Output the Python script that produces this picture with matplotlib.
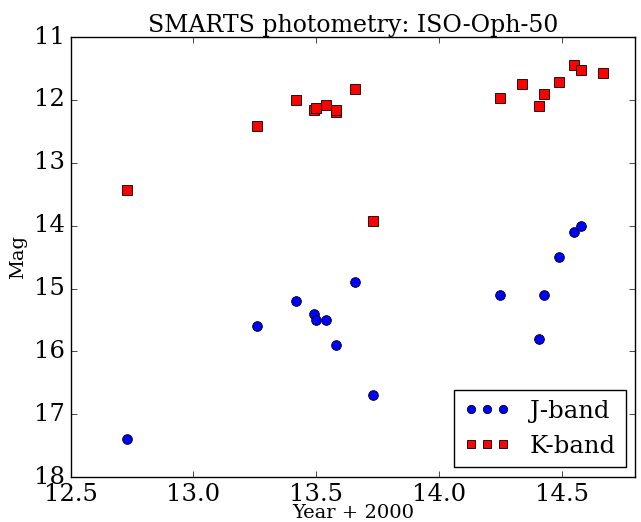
import matplotlib
matplotlib.use('Agg')
import matplotlib.pyplot as plt

# J-band photometry (year - 2000, mag)
j_year = [12.73, 13.26, 13.42, 13.49, 13.50, 13.54, 13.58, 13.66, 13.73,
          14.25, 14.41, 14.43, 14.49, 14.55, 14.58]
j_mag = [17.4, 15.6, 15.2, 15.4, 15.5, 15.5, 15.9, 14.9, 16.7,
         15.1, 15.8, 15.1, 14.5, 14.1, 14.0]

# K-band photometry
k_year = [12.73, 13.26, 13.42, 13.49, 13.50, 13.54, 13.58, 13.58, 13.66, 13.73,
          14.25, 14.34, 14.41, 14.43, 14.49, 14.55, 14.58, 14.67]
k_mag = [13.44, 12.41, 12.0, 12.16, 12.13, 12.08, 12.19, 12.16, 11.82, 13.93,
         11.97, 11.75, 12.09, 11.9, 11.71, 11.45, 11.52, 11.57]

plt.style.use('classic')
plt.rcParams['font.family'] = 'DejaVu Serif'

fig = plt.figure(figsize=(6.41, 5.22), dpi=100)
ax = fig.add_axes([0.11, 0.086, 0.881, 0.843])

ax.plot(j_year, j_mag, 'o', color='blue', markeredgecolor='black',
        markeredgewidth=0.6, markersize=7, label='J-band')
ax.plot(k_year, k_mag, 's', color='red', markeredgecolor='black',
        markeredgewidth=0.6, markersize=6.5, label='K-band')

ax.set_xlim(12.5, 14.8)
ax.set_ylim(18, 11)
ax.set_xticks([12.5, 13.0, 13.5, 14.0, 14.5])
ax.set_yticks([11, 12, 13, 14, 15, 16, 17, 18])
ax.tick_params(labelsize=17.5)

ax.set_xlabel('Year + 2000', fontsize=14, labelpad=-1)
ax.set_ylabel('Mag', fontsize=14)
ax.set_title('SMARTS photometry: ISO-Oph-50', fontsize=17, pad=4)

ax.legend(loc='lower right', numpoints=3, fontsize=17.5, markerscale=0.85,
          borderaxespad=0.4, handlelength=1.9)

fig.savefig('out.png', dpi=100)
